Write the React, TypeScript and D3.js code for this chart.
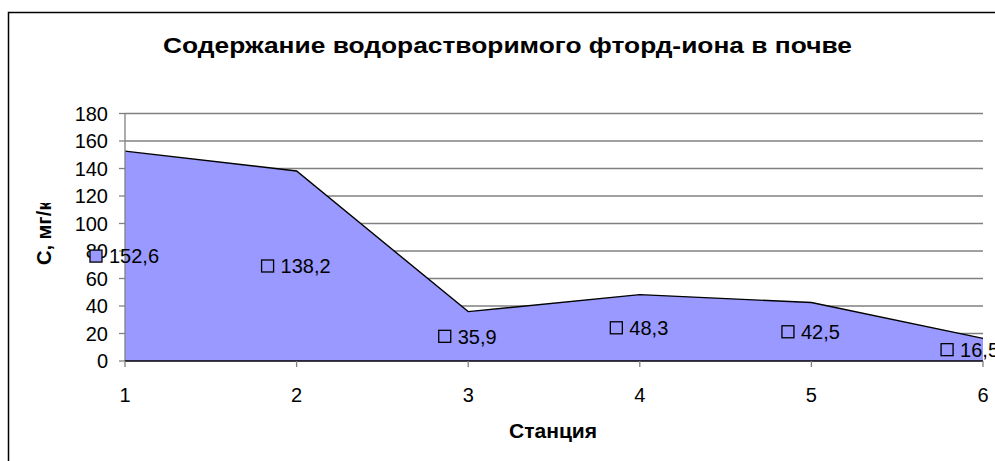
import React from "react";
import * as d3 from "d3";

const stations = [1, 2, 3, 4, 5, 6];
const values = [152.6, 138.2, 35.9, 48.3, 42.5, 16.5];
const labels = ["152,6", "138,2", "35,9", "48,3", "42,5", "16,5"];
const yTicks = [0, 20, 40, 60, 80, 100, 120, 140, 160, 180];
const title = "Содержание водорастворимого фторд-иона в почве";
const xTitle = "Станция";
const yTitle = "С, мг/кг";

const W = 995;
const H = 461;
const FONT = "'Liberation Sans', Arial, sans-serif";
const LABEL_FS = 20;

function approxWidth(s: string, fs: number) {
  let w = 0;
  for (const ch of s) w += ch === "," ? 0.278 * fs : 0.556 * fs;
  return w;
}

export default function App() {
  const x = d3.scaleLinear().domain([1, 6]).range([125, 983]);
  const y = d3.scaleLinear().domain([0, 180]).range([361, 113.5]);
  const data = stations.map((s, i) => ({ s, v: values[i], l: labels[i] }));
  const area = d3
    .area<{ s: number; v: number }>()
    .x((d) => x(d.s))
    .y0(y(0))
    .y1((d) => y(d.v))(data);
  const line = d3
    .line<{ s: number; v: number }>()
    .x((d) => x(d.s))
    .y((d) => y(d.v))(data);
  const [x0, x1] = x.range();

  return (
    <svg
      width={W}
      height={H}
      style={{ position: "absolute", left: 0, top: 0, background: "#fff" }}
      fontFamily={FONT}
    >
      <defs>
        <clipPath id="ytclip">
          <rect x={0} y={203} width={120} height={200} />
        </clipPath>
      </defs>
      <rect x={8.5} y={12.5} width={1100} height={600} fill="#fff" stroke="#000" strokeWidth={1.5} />
      <text
        x={163}
        y={53}
        fontSize={22}
        fontWeight="bold"
        fill="#000"
        textLength={689}
        lengthAdjust="spacingAndGlyphs"
      >
        {title}
      </text>
      {yTicks.filter((t) => t > 0).map((t) => (
        <line key={t} x1={x0} x2={x1} y1={y(t)} y2={y(t)} stroke="#808080" strokeWidth={1.3} />
      ))}
      <path d={area || ""} fill="#9999FF" />
      <path d={line || ""} fill="none" stroke="#000" strokeWidth={1.4} />
      <line x1={x0} x2={x0} y1={y(180)} y2={y(0)} stroke="#808080" strokeWidth={1.3} />
      {yTicks.map((t) => (
        <g key={t}>
          <line x1={x0 - 6} x2={x0} y1={y(t)} y2={y(t)} stroke="#808080" strokeWidth={1.3} />
          <text x={108} y={y(t)} dy="0.36em" textAnchor="end" fontSize={20} fill="#000">
            {t}
          </text>
        </g>
      ))}
      <line x1={x0} x2={x1} y1={y(0)} y2={y(0)} stroke="#000" strokeWidth={1.4} />
      {stations.map((s) => (
        <g key={s}>
          <line x1={x(s)} x2={x(s)} y1={y(0)} y2={y(0) + 6} stroke="#808080" strokeWidth={1.3} />
          <text x={x(s)} y={402} textAnchor="middle" fontSize={20} fill="#000">
            {s}
          </text>
        </g>
      ))}
      {data.map((d) => {
        const cy = y(d.v / 2);
        const groupW = 20 + approxWidth(d.l, LABEL_FS);
        let gx = x(d.s) - groupW / 2;
        if (gx + groupW > 1000) gx = 1000 - groupW;
        return (
          <g key={d.s}>
            <rect x={gx} y={cy - 6} width={12} height={12} fill="#9999FF" stroke="#000" strokeWidth={1.3} />
            <text x={gx + 19} y={cy} dy="0.36em" fontSize={LABEL_FS} fill="#000">
              {d.l}
            </text>
          </g>
        );
      })}
      <text
        x={509}
        y={438}
        fontSize={20}
        fontWeight="bold"
        fill="#000"
        textLength={88}
        lengthAdjust="spacingAndGlyphs"
      >
        {xTitle}
      </text>
      <g clipPath="url(#ytclip)">
        <text
          transform={`translate(51, 265) rotate(-90)`}
          textAnchor="start"
          fontSize={20}
          fontWeight="bold"
          fill="#000"
        >
          {yTitle}
        </text>
      </g>
    </svg>
  );
}
